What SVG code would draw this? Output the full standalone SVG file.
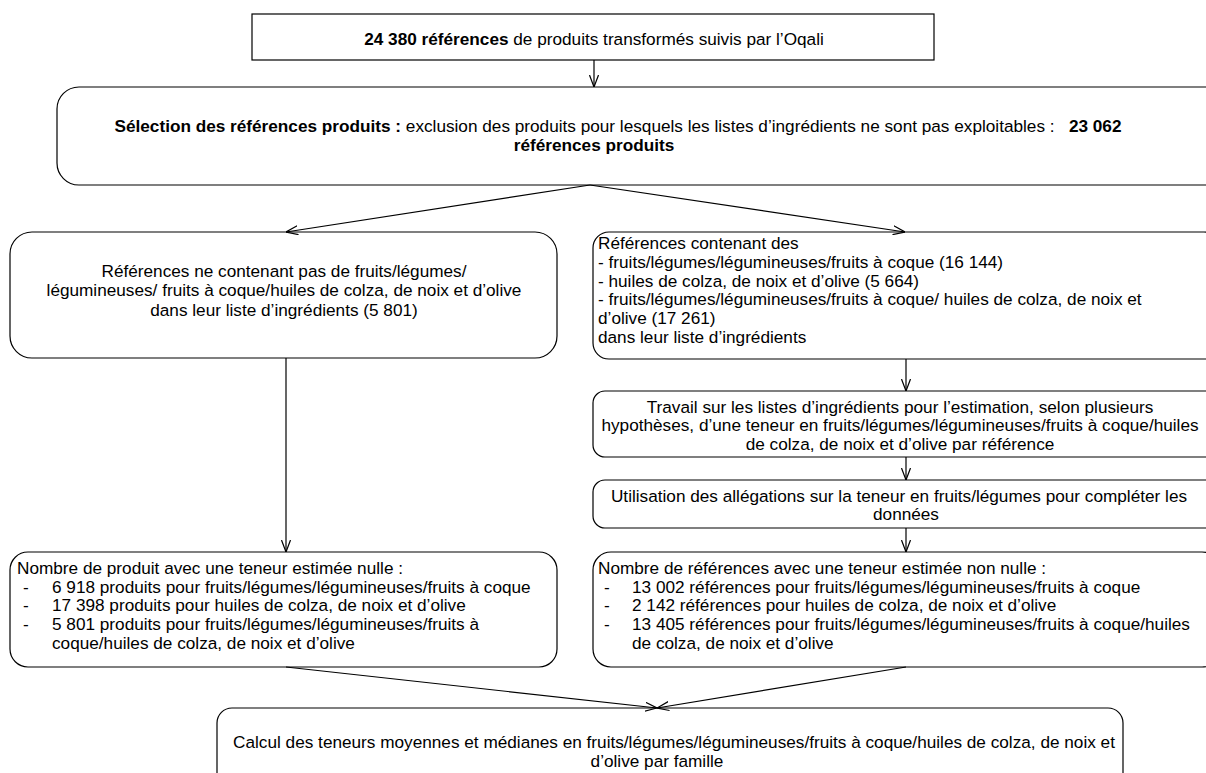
<svg xmlns="http://www.w3.org/2000/svg" width="1206" height="773" viewBox="0 0 1206 773">
<style>
  .box{fill:#fff;stroke:#000;stroke-width:1.2}
  text{font-family:"Liberation Sans",Arial,sans-serif;font-size:17.2px;fill:#000}
  .c{text-anchor:middle}
  .b{font-weight:bold}
  .ln{stroke:#000;stroke-width:1.2;fill:none}
</style>
<defs>
  <marker id="ah" viewBox="0 0 12 10" refX="12" refY="5" markerWidth="12" markerHeight="10" orient="auto" markerUnits="userSpaceOnUse">
    <path d="M0,0.5 L12,5 L0,9.5" fill="none" stroke="#000" stroke-width="1.2"/>
  </marker>
</defs>
<rect width="1206" height="773" fill="#fff"/>
<g id="n1">
  <rect class="box" x="252" y="14" width="682" height="46"/>
  <text class="c" x="594" y="45"><tspan class="b">24 380 références</tspan> de produits transformés suivis par l’Oqali</text>
</g>
<g id="n2">
  <rect class="box" x="57" y="87" width="1180" height="98" rx="22"/>
  <text class="c" x="618" y="132" xml:space="preserve"><tspan class="b">Sélection des références produits :</tspan> exclusion des produits pour lesquels les listes d’ingrédients ne sont pas exploitables :   <tspan class="b">23 062</tspan></text>
  <text class="c b" x="594" y="151">références produits</text>
</g>
<g id="n3">
  <rect class="box" x="10" y="232" width="547" height="126" rx="22"/>
  <text class="c" x="284" y="277">Références ne contenant pas de fruits/légumes/</text>
  <text class="c" x="284" y="296">légumineuses/ fruits à coque/huiles de colza, de noix et d’olive</text>
  <text class="c" x="284" y="316">dans leur liste d’ingrédients (5 801)</text>
</g>
<g id="n4">
  <rect class="box" x="593" y="232" width="627" height="127" rx="16"/>
  <text x="598" y="249">Références contenant des</text>
  <text x="598" y="268">- fruits/légumes/légumineuses/fruits à coque (16 144)</text>
  <text x="598" y="287">- huiles de colza, de noix et d’olive (5 664)</text>
  <text x="598" y="305">- fruits/légumes/légumineuses/fruits à coque/ huiles de colza, de noix et</text>
  <text x="598" y="324">d’olive (17 261)</text>
  <text x="598" y="343">dans leur liste d’ingrédients</text>
</g>
<g id="n5">
  <rect class="box" x="593" y="391" width="627" height="66" rx="12"/>
  <text class="c" x="900" y="413">Travail sur les listes d’ingrédients pour l’estimation, selon plusieurs</text>
  <text class="c" x="900" y="431">hypothèses, d’une teneur en fruits/légumes/légumineuses/fruits à coque/huiles</text>
  <text class="c" x="900" y="450">de colza, de noix et d’olive par référence</text>
</g>
<g id="n6">
  <rect class="box" x="593" y="480" width="627" height="48" rx="12"/>
  <text class="c" x="899" y="502">Utilisation des allégations sur la teneur en fruits/légumes pour compléter les</text>
  <text class="c" x="906" y="520">données</text>
</g>
<g id="n7">
  <rect class="box" x="10" y="552" width="547" height="115" rx="18"/>
  <text x="17" y="574">Nombre de produit avec une teneur estimée nulle :</text>
  <text x="23" y="593">-</text><text x="52" y="593">6 918 produits pour fruits/légumes/légumineuses/fruits à coque</text>
  <text x="23" y="611">-</text><text x="52" y="611">17 398 produits pour huiles de colza, de noix et d’olive</text>
  <text x="23" y="630">-</text><text x="52" y="630">5 801 produits pour fruits/légumes/légumineuses/fruits à</text>
  <text x="52" y="649">coque/huiles de colza, de noix et d’olive</text>
</g>
<g id="n8">
  <rect class="box" x="593" y="552" width="627" height="115" rx="18"/>
  <text x="598" y="574">Nombre de références avec une teneur estimée non nulle :</text>
  <text x="604" y="593">-</text><text x="632" y="593">13 002 références pour fruits/légumes/légumineuses/fruits à coque</text>
  <text x="604" y="611">-</text><text x="632" y="611">2 142 références pour huiles de colza, de noix et d’olive</text>
  <text x="604" y="630">-</text><text x="632" y="630">13 405 références pour fruits/légumes/légumineuses/fruits à coque/huiles</text>
  <text x="632" y="649">de colza, de noix et d’olive</text>
</g>
<g id="n9">
  <rect class="box" x="217" y="708" width="906" height="90" rx="15"/>
  <text class="c" x="674" y="748">Calcul des teneurs moyennes et médianes en fruits/légumes/légumineuses/fruits à coque/huiles de colza, de noix et</text>
  <text class="c" x="657" y="767">d’olive par famille</text>
</g>
<g id="connectors">
  <line class="ln" x1="594" y1="60" x2="594" y2="87" marker-end="url(#ah)"/>
  <line class="ln" x1="590" y1="185" x2="286" y2="232" marker-end="url(#ah)"/>
  <line class="ln" x1="590" y1="185" x2="905" y2="232" marker-end="url(#ah)"/>
  <line class="ln" x1="286" y1="358" x2="286" y2="552" marker-end="url(#ah)"/>
  <line class="ln" x1="906" y1="359" x2="906" y2="391" marker-end="url(#ah)"/>
  <line class="ln" x1="906" y1="457" x2="906" y2="480" marker-end="url(#ah)"/>
  <line class="ln" x1="906" y1="528" x2="906" y2="552" marker-end="url(#ah)"/>
  <line class="ln" x1="286" y1="667" x2="657" y2="708" marker-end="url(#ah)"/>
  <line class="ln" x1="906" y1="667" x2="657" y2="708" marker-end="url(#ah)"/>
</g>
</svg>
